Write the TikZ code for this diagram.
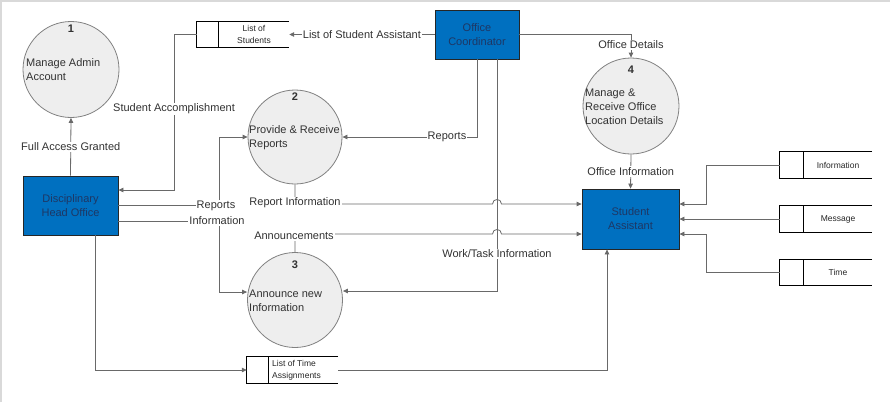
\documentclass[tikz,border=0pt]{standalone}
\usepackage{fontspec}
\setmainfont{Liberation Sans}
\usetikzlibrary{arrows.meta}
\definecolor{boxblue}{RGB}{0,112,192}
\definecolor{boxtext}{RGB}{30,55,100}
\definecolor{flow}{RGB}{105,105,105}
\definecolor{circfill}{RGB}{238,238,238}
\definecolor{circline}{RGB}{128,128,128}
\definecolor{labtext}{RGB}{50,50,50}
\begin{document}
\begin{tikzpicture}[x=1pt,y=-1pt,
  proc/.style={circle,draw=circline,fill=circfill,line width=0.8pt,inner sep=0pt},
  ent/.style={rectangle,draw=black!85,fill=boxblue,line width=0.8pt,text=boxtext,align=center,
    font=\fontsize{11}{14}\selectfont,inner sep=0pt},
  storebox/.style={rectangle,draw=none,inner sep=0pt,minimum height=25pt},
  stxt/.style={font=\fontsize{8.5}{12}\selectfont,text=black!85,inner sep=0pt},
  ptxt/.style={font=\fontsize{11}{14}\selectfont,text=labtext,align=left,inner sep=0pt,anchor=west},
  pnum/.style={font=\bfseries\fontsize{11}{12}\selectfont,text=labtext,inner sep=0pt},
  lab/.style={font=\fontsize{11}{12}\selectfont,text=labtext,fill=white,inner sep=1pt},
  flowline/.style={draw=flow,line width=0.8pt},
  arr/.style={flowline,-{Triangle[length=5pt,width=4.5pt]}}
]
\useasboundingbox (0,0) rectangle (890,402);
\draw[gray!30,line width=1.5pt] (1,402) -- (1,1) -- (890,1);

% processes
\node[proc,minimum size=96pt] (c1) at (71,69.5) {};
\node[proc,minimum size=94pt] (c2) at (295,137) {};
\node[proc,minimum size=95pt] (c3) at (295,300) {};
\node[proc,minimum size=96pt] (c4) at (631,106) {};
\node[pnum] (n1) at (71,29) {1};
\node[pnum] (n2) at (295,97) {2};
\node[pnum] (n3) at (295,265) {3};
\node[pnum] (n4) at (631,70) {4};
\node[ptxt] (t1) at (26,70) {Manage Admin\\Account};
\node[ptxt] (t2) at (249,138) {Provide \& Receive\\Reports};
\node[ptxt] (t3) at (249,301) {Announce new\\Information};
\node[ptxt] (t4) at (585,106.5) {Manage \&\\Receive Office\\Location Details};

% entities
\node[ent,minimum width=95pt,minimum height=59pt] (dho) at (70.5,205.5) {Disciplinary\\Head Office};
\node[ent,minimum width=84pt,minimum height=49pt] (oc) at (477,34.5) {Office\\Coordinator};
\node[ent,minimum width=97pt,minimum height=60pt] (sa) at (630.5,219) {Student\\Assistant};

% stores
\node[storebox,minimum width=92pt] (s1) at (243,34.5) {};
\node[storebox,minimum width=92pt,minimum height=26pt] (s2) at (826,165) {};
\node[storebox,minimum width=92pt,minimum height=26pt] (s3) at (826,219) {};
\node[storebox,minimum width=92pt,minimum height=25pt] (s4) at (826,272.5) {};
\node[storebox,minimum width=91pt,minimum height=26pt] (s5) at (292.5,370) {};
\foreach \s/\d in {s1/22,s2/24,s3/24,s4/24,s5/22}{
  \draw[black,line width=0.8pt] (\s.north east) -- (\s.north west) -- (\s.south west) -- (\s.south east);
  \draw[black,line width=0.8pt] ([xshift=\d pt]\s.north west) -- ([xshift=\d pt]\s.south west);
}
\node[stxt,align=center] (st1) at (254,34.5) {List of\\Students};
\node[stxt] (st2) at (838,165) {Information};
\node[stxt] (st3) at (838,219) {Message};
\node[stxt] (st4) at (838,272.5) {Time};
\node[stxt,align=left,anchor=west] (st5) at (272,370.5) {List of Time\\Assignments};

% flows
\draw[arr] (oc.west) -- node[lab]{List of Student Assistant} (s1.east);
\draw[arr] (oc.east) -| (c4.north) node[lab,pos=0.72]{Office Details};
\draw[arr] (c4.south) -- node[lab,pos=0.5]{Office Information} (sa.north);
\coordinate (sae1) at ([yshift=15pt]sa.east);
\coordinate (sae3) at ([yshift=-15pt]sa.east);
\draw[arr] (s2.west) -- (706,165) -- (706,204) -- (sae1);
\draw[arr] (s3.west) -- (sa.east);
\draw[arr] (s4.west) -- (706,272.5) -- (706,234) -- (sae3);

\coordinate (ocb1) at (oc.south);
\draw[arr] (ocb1) -- (477,137) -- (c2.east);
\node[lab] (rep2) at (447,137) {Reports};
\coordinate (ocb2) at ([xshift=20pt]oc.south);
\draw[arr] (ocb2) -- (497,291) -- (c3.east |- 0,291);
\node[lab] (wti) at (497,254) {Work/Task Information};

% report information (with jump)
\coordinate (saw1) at ([yshift=15pt]sa.west);
\coordinate (saw3) at ([yshift=-15pt]sa.west);
\draw[arr] (c2.south) -- (295,204) -- (492.5,204) .. controls (492.5,198) and (501.5,198) .. (501.5,204) -- (saw1);
\node[lab] (ri) at (295,203) {Report Information};
% announcements
\draw[arr] (c3.north) -- (295,234) -- (492.5,234) .. controls (492.5,228) and (501.5,228) .. (501.5,234) -- (saw3);
\node[lab] (an) at (294,236) {Announcements};

% DHO flows
\draw[arr] (dho.east |- 0,205) -- (219,205) -- (219,137) -- (c2.west);
\draw[arr] (dho.east |- 0,221) -- (219,221) -- (219,292) -- (c3.west |- 0,292);
\node[lab] (rp) at (216,206) {Reports};
\node[lab] (inf) at (217,221) {Information};
\draw[arr] (95,235) -- (95,370) -- (s5.west);
\draw[arr] (s5.east) -- (607,370) -- (sa.south -| 607,0);
\draw[arr] (s1.west) -- (174,34.5) -- (174,190) -- (dho.east |- 0,190);
\node[lab] (sacc) at (174,109) {Student Accomplishment};
\draw[arr] (dho.north) -- node[lab]{Full Access Granted} (c1.south);
\end{tikzpicture}
\end{document}
